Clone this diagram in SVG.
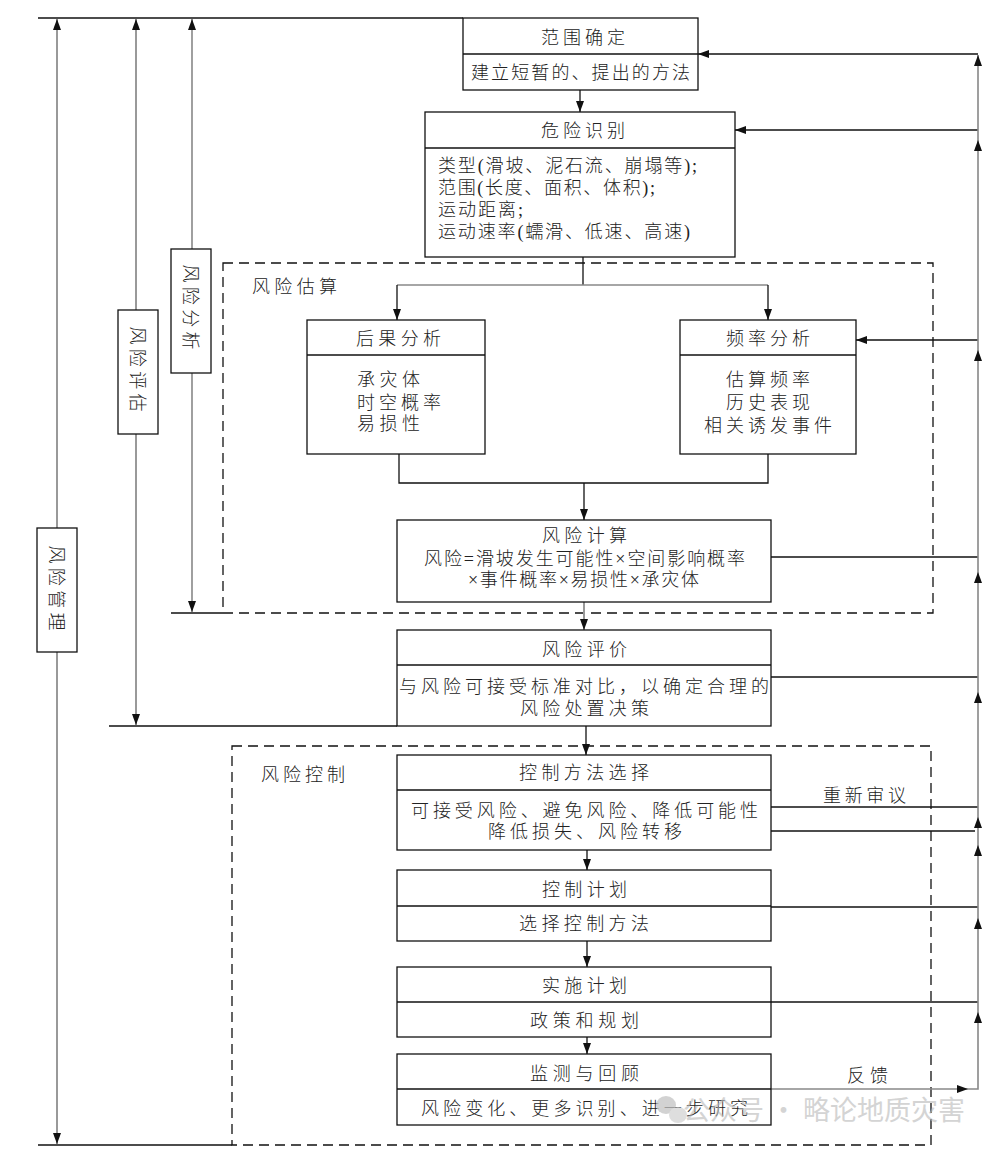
<svg xmlns="http://www.w3.org/2000/svg" width="996" height="1152" viewBox="0 0 996 1152">
<style>
.box{fill:#fff;stroke:#111;stroke-width:1.3}
.div{stroke:#111;stroke-width:1.3;fill:none}
.dash{fill:none;stroke:#111;stroke-width:1.3;stroke-dasharray:10 6}
.ln{fill:none;stroke:#111;stroke-width:1.3}
.gl{fill:none;stroke:#999;stroke-width:2}
.gr{fill:none;stroke:#888;stroke-width:1.6}
.ah{fill:#111}
text{font-family:"Liberation Serif","Noto Sans CJK SC",serif;font-size:18px;fill:#222;font-weight:300}
.c{text-anchor:middle}
.wm{font-family:"Noto Sans CJK SC",sans-serif;font-size:27px;fill:#b8b8b8;opacity:0.8;font-weight:400}
</style>
<defs>
<marker id="arr" markerUnits="userSpaceOnUse" markerWidth="11" markerHeight="8" viewBox="0 0 11 8" refX="11" refY="4" orient="auto-start-reverse">
<path d="M0,0 L11,4 L0,8 z" fill="#111"/>
</marker>
</defs>

<g id="groups">
<rect class="dash" x="223" y="263" width="710" height="350"/>
<text x="252" y="293" textLength="85">风险估算</text>
<rect class="dash" x="232" y="746" width="699" height="399"/>
<text x="261" y="781" textLength="84">风险控制</text>
</g>

<g id="connectors">
<path class="ln" d="M38,18 H463"/>
<path class="ln" d="M38,1145 H232"/>
<path class="ln" d="M171,613 H223"/>
<path class="ln" d="M109,726 H397"/>
<path class="gl" d="M57,19 V1144" marker-start="url(#arr)" marker-end="url(#arr)"/>
<path class="gl" d="M136,19 V725" marker-start="url(#arr)" marker-end="url(#arr)"/>
<path class="gr" d="M192,19 V612" marker-start="url(#arr)" marker-end="url(#arr)"/>
<path class="ln" d="M580,90 V112" marker-end="url(#arr)"/>
<path class="ln" d="M583,257 V285"/>
<path class="gr" d="M397,285 H768"/>
<path class="ln" d="M397,285 V320" marker-end="url(#arr)"/>
<path class="ln" d="M768,285 V320" marker-end="url(#arr)"/>
<path class="ln" d="M399,454 V483 H768 V454"/>
<path class="ln" d="M584,483 V520" marker-end="url(#arr)"/>
<path class="gl" d="M584,602 V630" marker-end="url(#arr)"/>
<path class="ln" d="M586,726 V755" marker-end="url(#arr)"/>
<path class="ln" d="M587,850 V870" marker-end="url(#arr)"/>
<path class="ln" d="M587,941 V967" marker-end="url(#arr)"/>
<path class="ln" d="M587,1037 V1054" marker-end="url(#arr)"/>
<path class="ln" d="M978,54 H698" marker-end="url(#arr)"/>
<path class="ln" d="M978,130 H735" marker-end="url(#arr)"/>
<path class="ln" d="M978,340 H856" marker-end="url(#arr)"/>
<path class="ln" d="M771,557 H978"/>
<path class="ln" d="M771,677 H978"/>
<path class="ln" d="M771,807 H978"/>
<path class="ln" d="M771,831 H975"/>
<path class="ln" d="M771,907 H978"/>
<path class="ln" d="M771,1002 H978"/>
<path class="gr" d="M771,1089 H968" marker-end="url(#arr)"/>
<path class="gr" d="M968,1089 H978 V55" marker-end="url(#arr)"/>
<path class="ah" d="M978,140 l-4,11 h8 z"/>
<path class="ah" d="M978,350 l-4,11 h8 z"/>
<path class="ah" d="M978,572 l-4,11 h8 z"/>
<path class="ah" d="M978,692 l-4,11 h8 z"/>
<path class="ah" d="M978,817 l-4,11 h8 z"/>
<path class="ah" d="M978,845 l-4,11 h8 z"/>
<path class="ah" d="M978,918 l-4,11 h8 z"/>
<path class="ah" d="M978,1012 l-4,11 h8 z"/>
<text x="823" y="802" textLength="83">重新审议</text>
<text x="847" y="1082" textLength="41">反馈</text>
</g>

<g id="side-management">
<rect class="box" x="37" y="528" width="40" height="124"/>
<text class="c" transform="translate(57,588) rotate(90)" y="7" textLength="85">风险管理</text>
</g>
<g id="side-assessment">
<rect class="box" x="118" y="310" width="40" height="124"/>
<text class="c" transform="translate(138,369) rotate(90)" y="7" textLength="85">风险评估</text>
</g>
<g id="side-analysis">
<rect class="box" x="171" y="249" width="40" height="124"/>
<text class="c" transform="translate(191,307) rotate(90)" y="7" textLength="85">风险分析</text>
</g>

<g id="n-scope">
<rect class="box" x="463" y="18" width="235" height="72"/>
<path class="div" d="M463,54 H698"/>
<text x="541" y="44" textLength="84">范围确定</text>
<text x="471" y="79" textLength="219">建立短暂的、提出的方法</text>
</g>

<g id="n-hazard">
<rect class="box" x="425" y="112" width="310" height="145"/>
<path class="div" d="M425,148 H735"/>
<text x="541" y="137" textLength="84">危险识别</text>
<text x="438" y="172" textLength="259">类型(滑坡、泥石流、崩塌等);</text>
<text x="438" y="194" textLength="217">范围(长度、面积、体积);</text>
<text x="438" y="216" textLength="85">运动距离;</text>
<text x="438" y="238" textLength="252">运动速率(蠕滑、低速、高速)</text>
</g>

<g id="n-consequence">
<rect class="box" x="307" y="320" width="178" height="134"/>
<path class="div" d="M307,355 H485"/>
<text x="356" y="345" textLength="85">后果分析</text>
<text x="357" y="386" textLength="63">承灾体</text>
<text x="357" y="409" textLength="84">时空概率</text>
<text x="357" y="430" textLength="63">易损性</text>
</g>

<g id="n-frequency">
<rect class="box" x="680" y="320" width="176" height="134"/>
<path class="div" d="M680,355 H856"/>
<text x="726" y="345" textLength="84">频率分析</text>
<text x="726" y="386" textLength="84">估算频率</text>
<text x="726" y="409" textLength="84">历史表现</text>
<text x="704" y="432" textLength="128">相关诱发事件</text>
</g>

<g id="n-calc">
<rect class="box" x="397" y="520" width="374" height="82"/>
<text x="542" y="542" textLength="85">风险计算</text>
<text x="424" y="565" textLength="321">风险=滑坡发生可能性×空间影响概率</text>
<text x="468" y="586" textLength="231">×事件概率×易损性×承灾体</text>
</g>

<g id="n-evaluation">
<rect class="box" x="397" y="630" width="374" height="96"/>
<path class="div" d="M397,665 H771"/>
<text x="542" y="656" textLength="85">风险评价</text>
<text x="399" y="693" textLength="370">与风险可接受标准对比，以确定合理的</text>
<text x="520" y="715" textLength="129">风险处置决策</text>
</g>

<g id="n-method">
<rect class="box" x="397" y="755" width="374" height="95"/>
<path class="div" d="M397,790 H771"/>
<text x="519" y="779" textLength="130">控制方法选择</text>
<text x="411" y="817" textLength="347">可接受风险、避免风险、降低可能性</text>
<text x="488" y="838" textLength="194">降低损失、风险转移</text>
</g>

<g id="n-plan">
<rect class="box" x="397" y="870" width="374" height="71"/>
<path class="div" d="M397,906 H771"/>
<text x="542" y="896" textLength="85">控制计划</text>
<text x="519" y="930" textLength="130">选择控制方法</text>
</g>

<g id="n-implement">
<rect class="box" x="397" y="967" width="374" height="70"/>
<path class="div" d="M397,1002 H771"/>
<text x="542" y="992" textLength="85">实施计划</text>
<text x="530" y="1027" textLength="109">政策和规划</text>
</g>

<g id="n-monitor">
<rect class="box" x="397" y="1054" width="374" height="71"/>
<path class="div" d="M397,1089 H771"/>
<text x="530" y="1080" textLength="109">监测与回顾</text>
<text x="421" y="1115" textLength="327">风险变化、更多识别、进一步研究</text>
</g>

<g id="watermark" opacity="0.75">
<ellipse cx="666" cy="1105" rx="10" ry="9" fill="#c4c4c4"/>
<ellipse cx="678" cy="1115" rx="9" ry="8" fill="#d4d4d4"/>
<text class="wm" x="683" y="1120">公众号 · 略论地质灾害</text>
</g>
</svg>
